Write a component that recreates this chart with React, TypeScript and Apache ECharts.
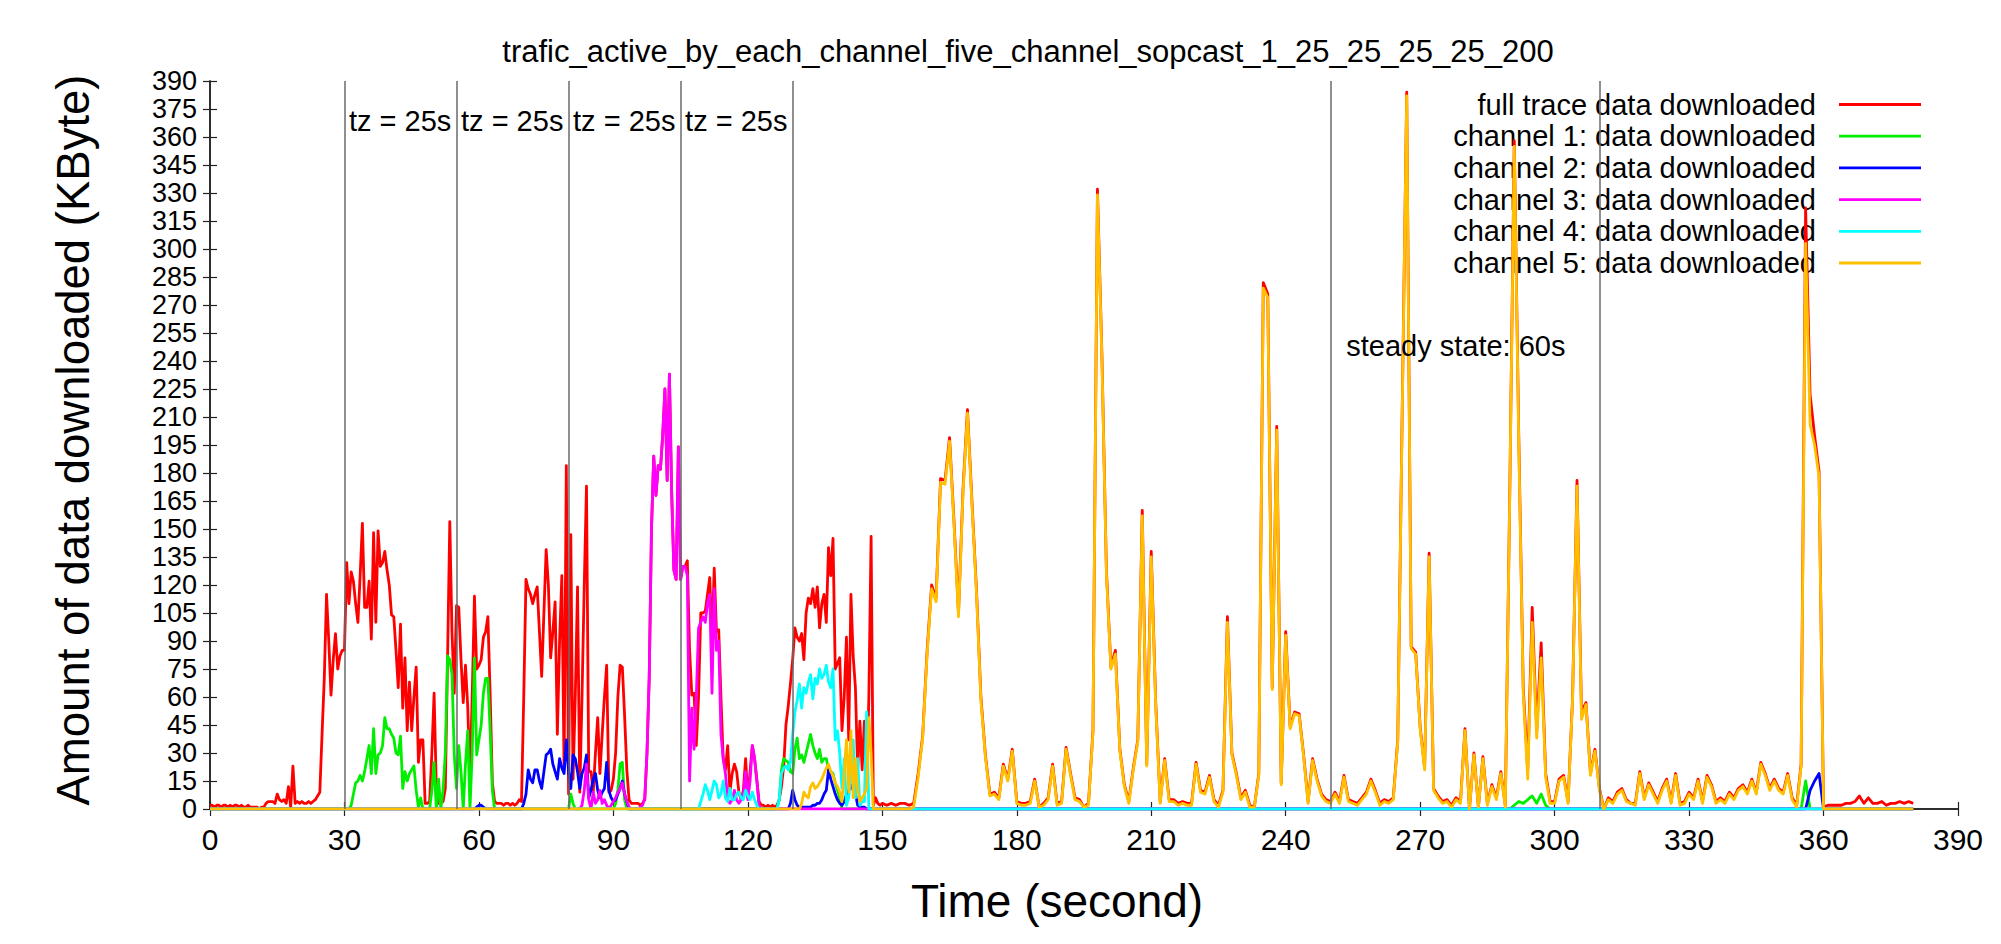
import React, { useEffect, useRef } from 'react';
import * as echarts from 'echarts';

const FONT = "'Liberation Sans', Arial, Helvetica, sans-serif";
const chartTitle = 'trafic_active_by_each_channel_five_channel_sopcast_1_25_25_25_25_200';
const xTitle = 'Time (second)';
const yTitle = 'Amount of data downloaded (KByte)';
const seriesNames = [
  'full trace data downloaded',
  'channel 1: data downloaded',
  'channel 2: data downloaded',
  'channel 3: data downloaded',
  'channel 4: data downloaded',
  'channel 5: data downloaded',
];
const seriesColors = ['#ff0000', '#00ee00', '#0000ff', '#ff00ff', '#00ffff', '#ffc000'];
const markerTimes = [30, 55, 80, 105, 130, 250, 310];
const tzTimes = [30, 55, 80, 105];
const tzText = 'tz = 25s';
const steadyText = 'steady state: 60s';

// full trace, t = 0 .. 149.5 every 0.5 s
const redA = [
  2, 2, 1, 2, 2, 1, 2, 2, 1, 2,
  1, 2, 2, 1, 2, 1, 1, 2, 1, 1,
  1, 1, 0, 1, 1, 3, 4, 4, 4, 3,
  8, 5, 4, 5, 3, 12, 1, 23, 3, 4,
  3, 4, 3, 3, 4, 3, 4, 5, 7, 9,
  40, 70, 115, 90, 61, 80, 94, 75, 82, 85,
  85, 132, 110, 127, 122, 110, 100, 125, 153, 108,
  108, 122, 91, 148, 100, 149, 130, 132, 138, 128,
  120, 104, 103, 85, 65, 99, 54, 81, 42, 68,
  42, 60, 76, 25, 37, 37, 3, 3, 4, 30,
  62, 11, 3, 3, 4, 11, 80, 154, 94, 62,
  109, 108, 80, 57, 77, 55, 16, 60, 114, 75,
  77, 80, 92, 95, 103, 62, 14, 4, 3, 3,
  3, 2, 3, 3, 2, 3, 2, 3, 5, 4,
  60, 123, 118, 115, 110, 115, 119, 95, 71, 105,
  139, 120, 81, 95, 111, 40, 90, 125, 21, 184,
  8, 147, 16, 60, 119, 9, 60, 120, 173, 20,
  20, 9, 30, 49, 19, 40, 60, 77, 9, 10,
  16, 30, 60, 77, 76, 50, 21, 5, 3, 3,
  3, 3, 2, 3, 5, 30, 71, 150, 189, 168,
  184, 182, 200, 225, 176, 233, 170, 128, 123, 194,
  123, 130, 130, 133, 85, 61, 62, 34, 60, 105,
  105, 106, 115, 124, 90, 129, 95, 96, 60, 27,
  21, 34, 9, 19, 24, 20, 9, 5, 10, 27,
  6, 20, 34, 27, 16, 4, 2, 2, 1, 2,
  1, 2, 1, 2, 5, 12, 23, 45, 55, 67,
  80, 97, 92, 90, 94, 80, 105, 113, 110, 118,
  108, 119, 97, 110, 115, 100, 140, 125, 145, 75,
  78, 81, 42, 60, 92, 37, 115, 82, 65, 21,
  47, 21, 47, 11, 60, 146, 2, 6, 3, 2,
];
// full trace, t = 150 .. 380 every 1 s
const redB = [
  3, 2, 3, 2, 3, 3, 2, 3, 19, 39,
  85, 120, 113, 177, 176, 199, 154, 105, 171, 214,
  165, 118, 60, 29, 8, 9, 6, 24, 16, 32,
  4, 3, 3, 4, 16, 1, 3, 6, 24, 3,
  4, 33, 19, 6, 5, 1, 3, 42, 332, 243,
  128, 76, 85, 32, 13, 4, 22, 37, 160, 24,
  138, 57, 4, 27, 5, 5, 3, 4, 3, 3,
  25, 10, 9, 18, 5, 2, 10, 103, 30, 19,
  6, 10, 2, 1, 19, 282, 276, 65, 205, 14,
  95, 44, 52, 51, 29, 4, 27, 16, 8, 5,
  4, 9, 4, 18, 5, 4, 3, 6, 9, 16,
  10, 3, 5, 4, 6, 37, 214, 384, 87, 84,
  44, 22, 137, 11, 7, 4, 5, 2, 6, 4,
  43, 0, 30, 1, 28, 3, 13, 6, 20, 2,
  171, 358, 200, 65, 21, 108, 42, 89, 19, 4,
  4, 16, 18, 4, 59, 176, 52, 57, 19, 32,
  11, 0, 6, 4, 9, 11, 5, 3, 3, 20,
  6, 14, 9, 4, 11, 16, 4, 19, 3, 4,
  9, 6, 16, 4, 18, 13, 4, 6, 4, 9,
  6, 11, 13, 9, 16, 9, 25, 19, 11, 16,
  11, 9, 19, 6, 2, 24, 322, 222, 200, 181,
  1, 2, 2, 2, 2, 3, 3, 4, 7, 3,
  6, 3, 3, 4, 2, 3, 3, 4, 3, 4,
  3,
];
// channel 1
const ch1A = [ // 29 .. 64 every 0.5 s
  0, 0, 0, 0, 0, 2, 8, 14, 15, 18,
  15, 20, 27, 34, 19, 43, 19, 29, 30, 34,
  49, 43, 43, 40, 38, 30, 29, 39, 11, 20,
  15, 19, 21, 23, 10, 1, 6, 0, 0, 0,
  0, 10, 25, 0, 16, 0, 10, 30, 82, 80,
  72, 29, 11, 34, 20, 0, 24, 42, 0, 30,
  81, 29, 37, 45, 62, 70, 70, 42, 10, 0,
  0,
];
const ch1B = [ // 80 .. 93 every 0.5 s
  0, 8, 3, 0, 0, 0, 0, 0, 0, 0, 0, 0, 0, 0, 0, 0, 0, 0, 0, 0, 0,
  3, 10, 24, 25, 5, 0,
];
const ch1C = [ // 126 .. 141.5 every 0.5 s
  0, 0, 5, 21, 27, 26, 25, 20, 19, 32,
  38, 27, 29, 25, 30, 35, 40, 34, 30, 27,
  32, 25, 27, 27, 21, 20, 19, 14, 10, 6,
  0, 0,
];
const ch1D = [0, 2, 4, 3, 5, 7, 3, 8, 2, 0]; // 290 .. 299 every 1 s
const ch1E = [0, 15, 0]; // 355 .. 357
// channel 2
const ch2A = [ // 59 .. 93.5 every 0.5 s
  0, 1, 2, 2, 1, 0,
  0, 0, 0, 0, 0, 0, 0, 0, 0, 0, 0, 0, 0, 0, 0, 0,
  3, 8, 21, 16, 14, 21, 21, 15, 11, 20,
  29, 30, 32, 24, 20, 16, 27, 22, 19, 37,
  20, 11, 29, 27, 20, 11, 19, 22, 29, 6,
  10, 16, 19, 10, 6, 9, 11, 25, 10, 6,
  4, 5, 8, 11, 15, 8, 4, 0,
];
const ch2B = [ // 129 .. 146.5 every 0.5 s
  0, 3, 10, 5, 2, 1, 1, 1, 1, 1,
  1, 2, 2, 3, 3, 5, 8, 10, 21, 16,
  12, 8, 5, 3, 2, 4, 8, 10, 13, 10,
  8, 2, 1, 1, 1, 0,
];
const ch2C = [0, 10, 15, 19, 0]; // 356 .. 360
// channel 3, 82 .. 126 every 0.5 s
const ch3A = [
  0, 0, 2, 10, 24, 5, 0, 9, 3, 5,
  10, 3, 5, 2, 0, 2, 4, 6, 9, 11,
  14, 8, 4, 1, 0, 0, 0, 0, 1, 2,
  6, 30, 71, 150, 189, 168, 184, 182, 200, 225,
  176, 233, 170, 128, 123, 194, 123, 130, 130, 125,
  15, 54, 32, 60, 97, 100, 103, 100, 110, 115,
  62, 118, 85, 90, 40, 27, 19, 5, 3, 5,
  10, 5, 3, 5, 8, 20, 5, 15, 34, 27,
  15, 2, 0, 0, 0, 0, 0, 0, 0,
];
// channel 4, 108 .. 148 every 0.5 s
const ch4A = [
  0, 0, 0, 4, 8, 13, 10, 5, 10, 15,
  13, 6, 8, 15, 6, 4, 11, 5, 5, 8,
  9, 6, 5, 10, 7, 5, 9, 5, 2, 0,
  0, 0, 0, 0, 0, 0, 0, 0, 5, 19,
  22, 23, 21, 25, 40, 52, 58, 67, 54, 65,
  62, 68, 72, 59, 70, 67, 75, 70, 72, 77,
  68, 65, 75, 37, 42, 30, 11, 27, 2, 6,
  20, 37, 6, 27, 2, 4, 4, 52, 0, 0,
  0,
];
// channel 5
const ch5A = [ // 128 .. 149.5 every 0.5 s
  0, 0, 0, 0,
  0, 0, 0, 0, 3, 9, 7, 6, 12, 14,
  11, 12, 14, 16, 19, 22, 24, 20, 18, 14,
  12, 9, 4, 20, 37, 9, 42, 6, 27, 10,
  4, 6, 8, 11, 49, 30, 0, 0, 0, 0,
];
const ch5B = [ // 150 .. 380 every 1 s
  0, 0, 0, 0, 0, 0, 0, 1, 17, 38,
  83, 118, 111, 175, 174, 197, 152, 103, 169, 212,
  163, 116, 58, 28, 7, 8, 5, 23, 15, 31,
  3, 2, 2, 3, 15, 1, 2, 5, 23, 2,
  3, 32, 18, 5, 4, 1, 2, 41, 329, 241,
  126, 75, 83, 31, 12, 3, 21, 36, 157, 23,
  135, 55, 3, 26, 4, 4, 2, 3, 2, 2,
  24, 9, 8, 17, 4, 1, 9, 100, 29, 18,
  5, 9, 1, 1, 18, 279, 274, 64, 203, 13,
  93, 43, 51, 50, 28, 3, 26, 15, 7, 4,
  3, 8, 3, 17, 4, 3, 2, 5, 8, 15,
  9, 2, 4, 3, 5, 36, 212, 382, 86, 83,
  43, 21, 135, 10, 6, 3, 4, 1, 5, 3,
  42, 0, 29, 1, 27, 2, 12, 5, 19, 1,
  169, 355, 196, 62, 16, 100, 38, 81, 17, 3,
  3, 15, 17, 3, 58, 173, 48, 56, 18, 31,
  10, 0, 5, 3, 8, 10, 4, 3, 2, 19,
  5, 13, 8, 3, 10, 15, 3, 18, 2, 3,
  8, 5, 15, 3, 17, 12, 3, 5, 3, 8,
  5, 10, 12, 8, 15, 8, 24, 18, 10, 15,
  10, 8, 18, 5, 1, 23, 303, 206, 195, 178,
  0, 0, 0, 0, 0, 0, 0, 0, 0, 0,
  0, 0, 0, 0, 0, 0, 0, 0, 0, 0,
  0,
];

const seg = (start: number, step: number, vals: number[]) =>
  vals.map((v, i) => [start + i * step, v]);

const redData = [...seg(0, 0.5, redA), ...seg(150, 1, redB)];
const ch1Data = [[0, 0], ...seg(29, 0.5, ch1A), ...seg(80, 0.5, ch1B), ...seg(126, 0.5, ch1C), ...seg(290, 1, ch1D), ...seg(355, 1, ch1E), [380, 0]];
const ch2Data = [[0, 0], ...seg(59, 0.5, ch2A), ...seg(129, 0.5, ch2B), ...seg(356, 1, ch2C), [380, 0]];
const ch3Data = [[0, 0], ...seg(82, 0.5, ch3A), [380, 0]];
const ch4Data = [[0, 0], ...seg(108, 0.5, ch4A), [380, 0]];
const ch5Data = [[0, 0], ...seg(128, 0.5, ch5A), ...seg(150, 1, ch5B)];
const allData = [redData, ch1Data, ch2Data, ch3Data, ch4Data, ch5Data];

export default function App() {
  const ref = useRef<HTMLDivElement>(null);
  useEffect(() => {
    if (!ref.current) return;
    const chart = echarts.init(ref.current, undefined, { renderer: 'svg' });
    const axisColor = '#222';
    const baseAxis = {
      type: 'value' as const,
      min: 0,
      max: 390,
      splitLine: { show: false },
      axisLine: { show: true, lineStyle: { color: axisColor, width: 1.5 } },
      axisTick: { show: true, inside: true, length: 7, lineStyle: { color: axisColor, width: 1.2 } },
    };
    const legendTop = 104.5;
    const legendStep = 31.7;
    const graphic: any[] = [];
    seriesNames.forEach((n, i) => {
      const y = legendTop + i * legendStep;
      graphic.push({
        type: 'text',
        x: 1816,
        y,
        style: { text: n, fill: '#000', font: `29px ${FONT}`, textAlign: 'right', align: 'right', textVerticalAlign: 'middle', verticalAlign: 'middle' },
      });
      graphic.push({
        type: 'line',
        shape: { x1: 1839, y1: y, x2: 1921, y2: y },
        style: { stroke: seriesColors[i], lineWidth: 2.8 },
      });
    });

    const option: any = {
      animation: false,
      backgroundColor: '#ffffff',
      title: {
        text: chartTitle,
        left: 1028,
        top: 36,
        textAlign: 'center',
        padding: 0,
        textStyle: { fontSize: 31, fontWeight: 'normal', color: '#000', fontFamily: FONT },
      },
      grid: { left: 210, right: 43, top: 81, bottom: 135, containLabel: false },
      xAxis: [
        {
          ...baseAxis,
          position: 'bottom',
          interval: 30,
          axisLabel: { fontSize: 30, color: '#000', margin: 15, fontFamily: FONT, showMinLabel: true, showMaxLabel: true },
          name: xTitle,
          nameLocation: 'middle',
          nameGap: 69,
          nameTextStyle: { fontSize: 46, color: '#000', fontFamily: FONT, padding: [0, 54, 0, 0] },
        },
        { ...baseAxis, position: 'top', interval: 30, axisLabel: { show: false } },
      ],
      yAxis: [
        {
          ...baseAxis,
          position: 'left',
          interval: 15,
          axisLabel: { fontSize: 27, color: '#000', margin: 13, fontFamily: FONT, showMinLabel: true, showMaxLabel: true, hideOverlap: false },
          name: yTitle,
          nameLocation: 'middle',
          nameGap: 114,
          nameTextStyle: { fontSize: 45.5, color: '#000', fontFamily: FONT, padding: [0, 0, 0, 10] },
        },
        { ...baseAxis, position: 'right', interval: 15, axisLabel: { show: false } },
      ],
      graphic,
      series: [
        {
          type: 'line',
          name: 'markers',
          data: [[0, 0], [390, 0]],
          symbol: 'none',
          lineStyle: { opacity: 0 },
          silent: true,
          markLine: {
            silent: true,
            symbol: 'none',
            label: { show: false },
            lineStyle: { color: '#6a6a6a', width: 1.5, type: 'solid' },
            data: markerTimes.map((t) => ({ xAxis: t })),
          },
          markPoint: {
            silent: true,
            symbol: 'circle',
            symbolSize: 1,
            itemStyle: { color: 'rgba(0,0,0,0)' },
            label: {
              show: true,
              position: 'right',
              distance: 4,
              color: '#000',
              fontSize: 29,
              fontFamily: FONT,
              formatter: (p: any) => p.name,
            },
            data: [
              ...tzTimes.map((t) => ({ name: tzText, coord: [t, 368.5] })),
              { name: steadyText, coord: [252.5, 248] },
            ],
          },
        },
        ...allData.map((d, i) => ({
          type: 'line',
          name: seriesNames[i],
          data: d,
          symbol: 'none',
          showSymbol: false,
          silent: true,
          lineStyle: { color: seriesColors[i], width: 2.8, join: 'round' },
          itemStyle: { color: seriesColors[i] },
        })),
      ],
    };
    chart.setOption(option);
    return () => chart.dispose();
  }, []);
  return (
    <div
      ref={ref}
      style={{ position: 'absolute', left: 0, top: 0, width: 2001, height: 944, background: '#fff' }}
    />
  );
}
